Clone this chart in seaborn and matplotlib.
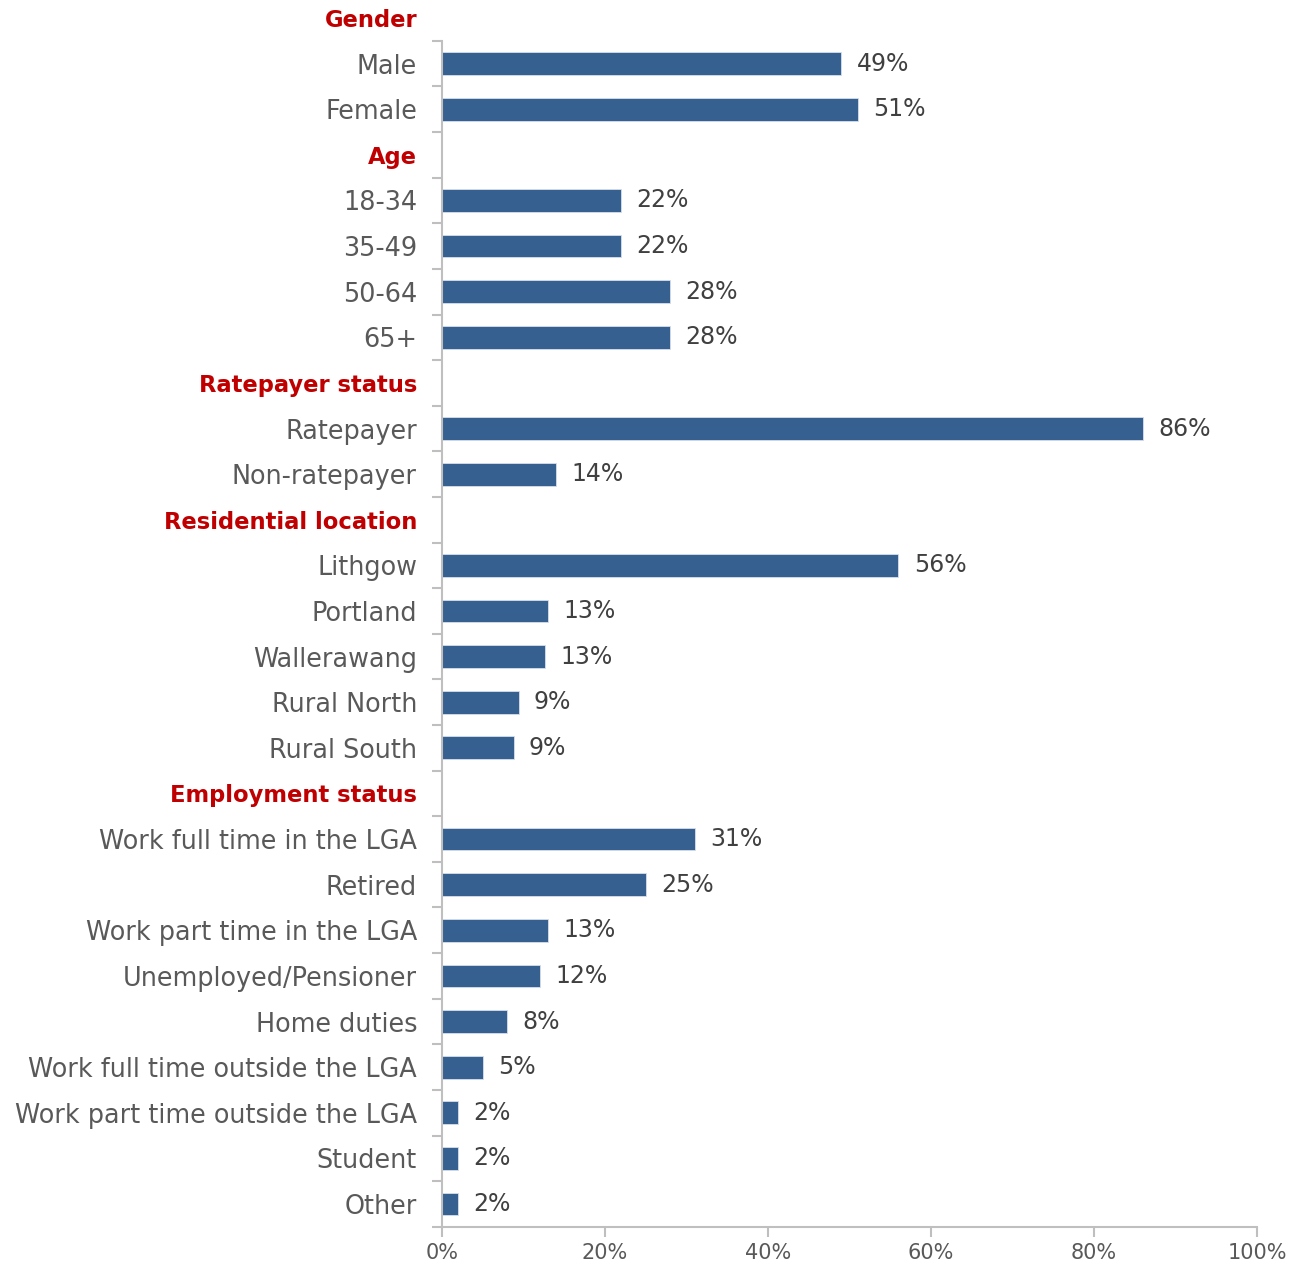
import matplotlib
matplotlib.use("Agg")
import matplotlib.pyplot as plt
import numpy as np
import pandas as pd
import seaborn as sns

BAR_COLOR = "#35608F"
HEAD_COLOR = "#C00000"
TEXT_COLOR = "#595959"
AXIS_COLOR = "#BFBFBF"

# ── DATA ───────────────────────────────────────────────────────────────
headers = ["Gender", "Age", "Ratepayer status", "Residential location",
           "Employment status"]

gender_labels = ["Male", "Female"]
gender_values = [49, 51]

age_labels = ["18-34", "35-49", "50-64", "65+"]
age_values = [22, 22, 28, 28]

ratepayer_labels = ["Ratepayer", "Non-ratepayer"]
ratepayer_values = [86, 14]

location_labels = ["Lithgow", "Portland", "Wallerawang", "Rural North",
                   "Rural South"]
location_values = [56, 13, 12.6, 9.4, 8.8]

employment_labels = ["Work full time in the LGA", "Retired",
                     "Work part time in the LGA", "Unemployed/Pensioner",
                     "Home duties", "Work full time outside the LGA",
                     "Work part time outside the LGA", "Student", "Other"]
employment_values = [31, 25, 13, 12, 8, 5, 2, 2, 2]

groups = [
    (headers[0], gender_labels, gender_values),
    (headers[1], age_labels, age_values),
    (headers[2], ratepayer_labels, ratepayer_values),
    (headers[3], location_labels, location_values),
    (headers[4], employment_labels, employment_values),
]

order = []
rows = []
for head, labels, values in groups:
    order.append(head)
    order.extend(labels)
    rows.extend(zip(labels, values))
df = pd.DataFrame(rows, columns=["label", "pct"])

# ── PLOT ───────────────────────────────────────────────────────────────
sns.set_style("white")
plt.rcParams["font.family"] = ["DejaVu Sans"]

fig = plt.figure(figsize=(12.92, 12.69), dpi=100)
n = len(order)
px_row = 45.615
top_px = 18 - px_row / 2
bot_px = 1204 + px_row / 2
ax = fig.add_axes([442 / 1292, 1 - bot_px / 1269, (1257 - 442) / 1292,
                   (bot_px - top_px) / 1269])

sns.barplot(data=df, y="label", x="pct", order=order, orient="h",
            color=BAR_COLOR, width=0.5, edgecolor="#D6DEEA", linewidth=0.6,
            saturation=1, ax=ax)

ax.bar_label(ax.containers[0], fmt="{:.0f}%", padding=11,
             fontsize=17, color="#404040")

ax.set_xlim(0, 100)
ax.set_ylim(n - 0.5, -0.5)
ax.set_xticks(np.arange(0, 101, 20))
ax.set_xticklabels([f"{t}%" for t in range(0, 101, 20)])
ax.set_xlabel("")
ax.set_ylabel("")

for side in ["top", "right"]:
    ax.spines[side].set_visible(False)
for side in ["left", "bottom"]:
    ax.spines[side].set_color(AXIS_COLOR)
    ax.spines[side].set_linewidth(1.5)
ax.spines["left"].set_bounds(0.5, n - 0.5)

ax.set_yticks(np.arange(0.5, n, 1.0), minor=True)
ax.tick_params(axis="y", which="major", left=True, length=0, pad=18,
               labelsize=18.4, labelcolor=TEXT_COLOR)
ax.tick_params(axis="y", which="minor", left=True, length=7, width=1.5,
               color=AXIS_COLOR, direction="out")
ax.tick_params(axis="x", bottom=True, length=7, width=1.5, color=AXIS_COLOR,
               direction="out", labelsize=15, labelcolor=TEXT_COLOR, pad=5)

for lbl in ax.get_yticklabels():
    if lbl.get_text() in headers:
        lbl.set_color(HEAD_COLOR)
        lbl.set_fontweight("bold")
        lbl.set_fontsize(16.3)

fig.savefig("out.png", dpi=100, facecolor="white")
